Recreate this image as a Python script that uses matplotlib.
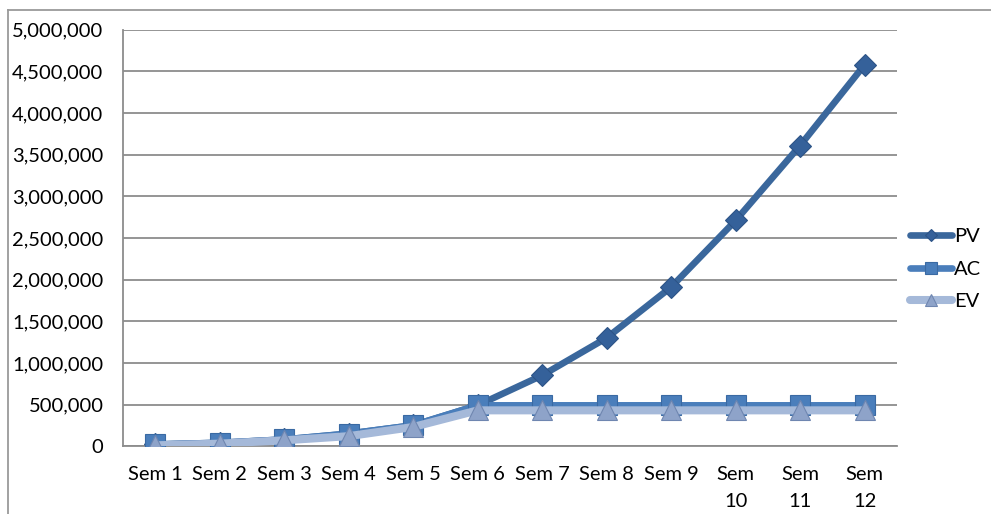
import matplotlib
matplotlib.use("Agg")
import matplotlib.pyplot as plt
from matplotlib.lines import Line2D
from matplotlib.ticker import FuncFormatter, MultipleLocator

weeks = ["Sem 1", "Sem 2", "Sem 3", "Sem 4", "Sem 5", "Sem 6",
         "Sem 7", "Sem 8", "Sem 9", "Sem\n10", "Sem\n11", "Sem\n12"]
pv = [20000, 40000, 80000, 150000, 250000, 490000,
      850000, 1300000, 1910000, 2710000, 3610000, 4580000]
ac = [20000, 40000, 80000, 150000, 250000, 490000,
      490000, 490000, 490000, 490000, 490000, 490000]
ev = [10000, 30000, 70000, 120000, 230000, 430000,
      430000, 430000, 430000, 430000, 430000, 430000]

plt.rcParams["font.family"] = ["Lato", "DejaVu Sans"]

fig = plt.figure(figsize=(9.91, 5.14), dpi=100)
ax = fig.add_axes([0.124, 0.132, 0.781, 0.810])

x = list(range(len(weeks)))

ax.plot(x, pv, color="#3a679c", lw=4.8, marker="D", ms=11,
        mfc="#35619a", mec="#2d5487", mew=0.8, label="PV", zorder=3,
        solid_capstyle="round")
ax.plot(x, ac, color="#4a7ebb", lw=4.8, marker="s", ms=14,
        mfc="#4a7ebb", mec="#3a6aa3", mew=0.8, label="AC", zorder=4,
        solid_capstyle="round")
ax.plot(x, ev, color="#a5b9d9", lw=5.8, marker="^", ms=15,
        mfc="#8ea3c9", mec="#6f86b0", mew=0.8, label="EV", zorder=5,
        solid_capstyle="round")

ax.set_xlim(-0.5, len(weeks) - 0.5)
ax.set_ylim(0, 5000000)
ax.yaxis.set_major_locator(MultipleLocator(500000))
ax.yaxis.set_major_formatter(FuncFormatter(lambda v, p: f"{int(v):,}"))
ax.set_xticks(x)
ax.set_xticklabels(weeks, linespacing=1.75, va="top")
ax.tick_params(axis="both", length=0, labelsize=14.5, colors="black")
ax.tick_params(axis="x", pad=14)
ax.tick_params(axis="y", pad=14)

ax.grid(axis="y", color="#8c8c8c", lw=1.3)
ax.set_axisbelow(True)
for s in ("top", "right"):
    ax.spines[s].set_visible(False)
for s in ("left", "bottom"):
    ax.spines[s].set_color("#8c8c8c")
    ax.spines[s].set_linewidth(1.3)

leg = fig.legend(loc="upper left", bbox_to_anchor=(0.918, 0.557),
                 frameon=False, fontsize=14.5, handlelength=2.1,
                 markerscale=0.6, handletextpad=0.1, labelspacing=0.78,
                 borderaxespad=0, borderpad=0)

fig.add_artist(Line2D([8 / 991, 1.0], [1 - 10 / 514, 1 - 10 / 514],
                      transform=fig.transFigure, color="#9a9a9a", lw=1.3))
fig.add_artist(Line2D([8 / 991, 8 / 991], [0, 1 - 10 / 514],
                      transform=fig.transFigure, color="#9a9a9a", lw=1.3))

fig.savefig("out.png", dpi=100)
